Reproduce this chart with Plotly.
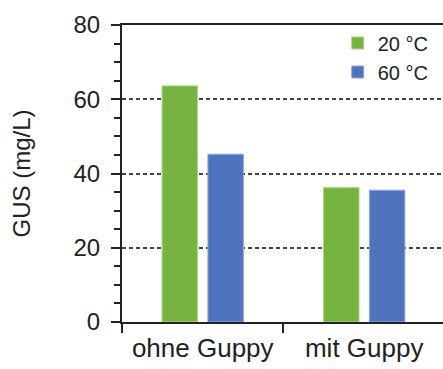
import plotly.graph_objects as go

categories = ["ohne Guppy", "mit Guppy"]
series_names = ["20 °C", "60 °C"]
values_20 = [63.6, 36.2]
values_60 = [45.2, 35.5]
colors = ["#76B341", "#5073BD"]
edge_colors = ["#A9D884", "#8FA8DC"]

fig = go.Figure()
for name, vals, col, ec in zip(series_names, [values_20, values_60], colors, edge_colors):
    fig.add_trace(go.Bar(
        x=categories, y=vals, name=name,
        marker=dict(color=col, line=dict(color=ec, width=1)),
    ))

FONT = "Liberation Sans, Arial, sans-serif"
fig.update_layout(
    width=443, height=369,
    margin=dict(l=122, r=0, t=25, b=47, autoexpand=False),
    paper_bgcolor="white", plot_bgcolor="white",
    barmode="group", bargap=0.432, bargroupgap=0.226,
    font=dict(family=FONT, color="#222222"),
    showlegend=True,
    legend=dict(
        x=0.672, y=1.005, xanchor="left", yanchor="top",
        bgcolor="rgba(0,0,0,0)", font=dict(size=20, family=FONT),
        itemwidth=30, traceorder="normal",
    ),
    xaxis=dict(
        type="category", range=[-0.5, 1.488], automargin=False,
        showline=True, linecolor="#222222", linewidth=2, mirror=True,
        ticks="outside", tickson="boundaries", ticklen=9, tickwidth=2, tickcolor="#222222",
        tickfont=dict(size=26, family=FONT), ticklabelstandoff=2,
        showgrid=False,
    ),
    yaxis=dict(
        range=[0, 80], tickvals=[0, 20, 40, 60, 80], automargin=False,
        showline=True, linecolor="#222222", linewidth=2,
        ticks="outside", ticklen=9, tickwidth=2, tickcolor="#222222",
        minor=dict(dtick=5, ticks="outside", ticklen=6, tickwidth=2, tickcolor="#222222", showgrid=False),
        tickfont=dict(size=24, family=FONT), ticklabelstandoff=6,
        showgrid=True, gridcolor="#444444", griddash="4px,3px", gridwidth=1.5,
        zeroline=False,
        title=dict(text="GUS (mg/L)", font=dict(size=24, family=FONT), standoff=36),
    ),
)
fig.write_html(
    "out.html",
    config={"displayModeBar": False},
    post_script="document.body.style.margin='0';document.body.style.overflow='hidden';",
)
